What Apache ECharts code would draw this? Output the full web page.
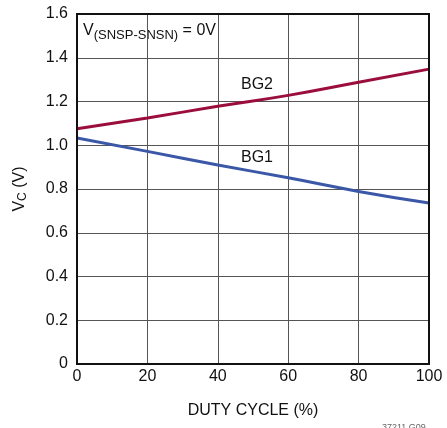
<!DOCTYPE html>
<html>
<head>
<meta charset="utf-8">
<script src="https://cdn.jsdelivr.net/npm/echarts@6/dist/echarts.min.js"></script>
<style>
  html, body { margin: 0; padding: 0; background: #fff; }
  #chart-container { width: 447px; height: 428px; }
</style>
</head>
<body>
<div id="chart-container"></div>
<script>
var dom = document.getElementById("chart-container");
var myChart = echarts.init(dom, null, { renderer: "canvas" });

const dutyCycle = [0, 20, 40, 60, 80, 100];
const bg2 = [1.075, 1.125, 1.178, 1.228, 1.288, 1.348];
const bg1 = [1.033, 0.972, 0.91, 0.851, 0.789, 0.736];
const yTicks = ["0", "0.2", "0.4", "0.6", "0.8", "1.0", "1.2", "1.4", "1.6"];

const font = "Liberation Sans";

const toPairs = (vals) => vals.map((v, i) => [dutyCycle[i], v]);

var option = {
  animation: false,
  backgroundColor: "#fff",
  textStyle: { fontFamily: font },
  grid: { left: 77, right: 18, top: 14, bottom: 64 },
  xAxis: {
    type: "value",
    min: 0,
    max: 100,
    interval: 20,
    name: "DUTY CYCLE (%)",
    nameLocation: "middle",
    nameGap: 39,
    nameTextStyle: { fontFamily: font, fontSize: 16, color: "#111" },
    axisLine: { show: true, lineStyle: { color: "#111", width: 2 } },
    axisTick: { show: false },
    axisLabel: { fontFamily: font, fontSize: 16, color: "#111", margin: 5 },
    splitLine: { show: true, lineStyle: { color: "#555", width: 1 } },
  },
  yAxis: {
    type: "value",
    min: 0,
    max: 1.6,
    interval: 0.2,
    name: "{v|V}{s|C}{v| (V)}",
    nameLocation: "middle",
    nameGap: 48,
    nameTextStyle: {
      rich: {
        v: { fontFamily: font, fontSize: 16, color: "#111" },
        s: { fontFamily: font, fontSize: 12, color: "#111", padding: [6, 0, 0, 0] },
      },
    },
    axisLine: { show: true, lineStyle: { color: "#111", width: 2 } },
    axisTick: { show: false },
    axisLabel: {
      fontFamily: font,
      fontSize: 16,
      color: "#111",
      margin: 9,
      formatter: (v) => yTicks[Math.round(v / 0.2)],
    },
    splitLine: { show: true, lineStyle: { color: "#555", width: 1 } },
  },
  graphic: [
    {
      type: "rect",
      shape: { x: 77, y: 14, width: 352, height: 350 },
      style: { fill: "none", stroke: "#111", lineWidth: 2 },
      z: 10,
    },
    {
      type: "text",
      left: 83,
      top: 23,
      style: {
        text: "{v|V}{s|(SNSP-SNSN)}{v| = 0V}",
        rich: {
          v: { fontFamily: font, fontSize: 16, fill: "#111" },
          s: { fontFamily: font, fontSize: 13, fill: "#111", padding: [8, 0, 0, 0] },
        },
      },
    },
    {
      type: "text",
      left: 241,
      top: 77,
      style: { text: "BG2", fontFamily: font, fontSize: 16, fill: "#111" },
    },
    {
      type: "text",
      left: 241,
      top: 150,
      style: { text: "BG1", fontFamily: font, fontSize: 16, fill: "#111" },
    },
    {
      type: "text",
      left: 382,
      top: 423,
      style: { text: "37211 G09", fontFamily: font, fontSize: 9, fill: "#666" },
    },
  ],
  series: [
    {
      name: "BG2",
      type: "line",
      data: toPairs(bg2),
      smooth: true,
      showSymbol: false,
      lineStyle: { color: "#9B0E3C", width: 3 },
    },
    {
      name: "BG1",
      type: "line",
      data: toPairs(bg1),
      smooth: true,
      showSymbol: false,
      lineStyle: { color: "#3B57A7", width: 3 },
    },
  ],
};

myChart.setOption(option);
window.addEventListener("resize", myChart.resize);
</script>
</body>
</html>
